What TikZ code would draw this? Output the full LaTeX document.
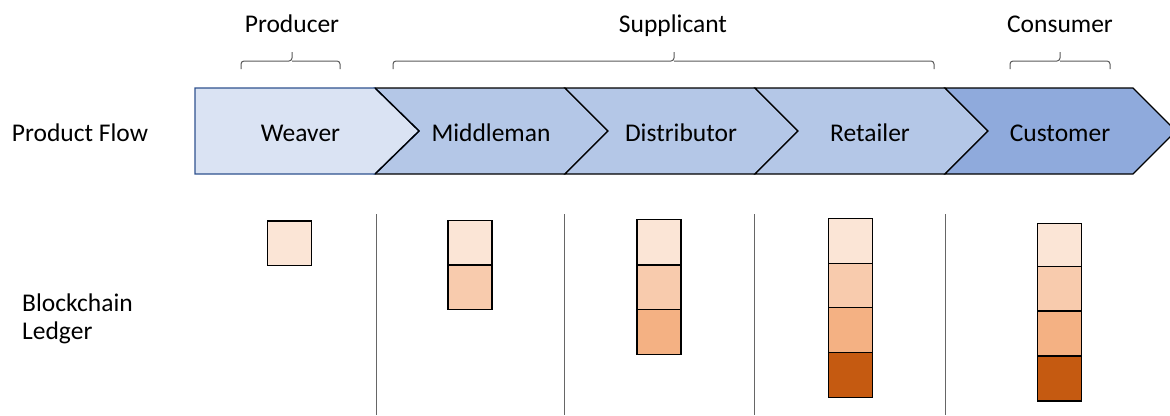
\documentclass[tikz,border=0pt]{standalone}
\usepackage{fontspec}
\setmainfont{Carlito}
\definecolor{blkA}{HTML}{FBE5D6}
\definecolor{blkB}{HTML}{F8CBAD}
\definecolor{blkC}{HTML}{F4B183}
\definecolor{blkD}{HTML}{C55A11}
\definecolor{chevLight}{HTML}{DAE3F3}
\definecolor{chevMid}{HTML}{B4C7E7}
\definecolor{chevDark}{HTML}{8FAADC}
\definecolor{edgeBlue}{HTML}{2F528F}
\definecolor{braceGray}{HTML}{595959}
\begin{document}
\begin{tikzpicture}[x=1pt,y=-1pt,
  lbl/.style={font=\fontsize{25.5}{28}\selectfont, inner sep=0pt, anchor=base},
  chev/.style={draw=black, line width=1.3pt, line join=miter},
  brace/.style={draw=braceGray, line width=1pt, rounded corners=3pt},
  divider/.style={draw=gray!80!black, line width=1pt},
  blk/.style={draw=black, line width=1.2pt, minimum width=44pt, minimum height=44.5pt, inner sep=0pt}]
\useasboundingbox (0,0) rectangle (1170,415);
\begin{scope}
\clip (0,0) rectangle (1170,415);

% stage headings with braces
\node[lbl] (prod) at (292,32.3) {Producer};
\node[lbl] (supp) at (673,32.3) {Supplicant};
\node[lbl] (cons) at (1060,32.3) {Consumer};
\draw[brace] (241,69) -- (241,61) -- (292,61) -- (292,52);
\draw[brace] (292,61) -- (340,61) -- (340,69);
\draw[brace] (393,69) -- (393,61) -- (674,61) -- (674,52);
\draw[brace] (674,61) -- (934,61) -- (934,69);
\draw[brace] (1010,69) -- (1010,61) -- (1060,61) -- (1060,52);
\draw[brace] (1060,61) -- (1110,61) -- (1110,69);

% product flow chevrons
\draw[chev, fill=chevMid] (375,88) -- (565,88) -- (608,131) -- (565,174) -- (375,174) -- (419,131) -- cycle;
\draw[chev, fill=chevMid] (565,88) -- (755,88) -- (798,131) -- (755,174) -- (565,174) -- (608,131) -- cycle;
\draw[chev, fill=chevMid] (755,88) -- (945,88) -- (988,131) -- (945,174) -- (755,174) -- (798,131) -- cycle;
\draw[chev, fill=chevDark] (945,88) -- (1133,88) -- (1176,131) -- (1133,174) -- (945,174) -- (988,131) -- cycle;
\draw[line width=1.3pt, draw=edgeBlue, fill=chevLight, line join=miter] (195,88) -- (375,88) -- (419,131) -- (375,174) -- (195,174) -- cycle;
\draw[chev] (375,88) -- (419,131) -- (375,174);

\node[lbl] (flow) at (80,141.5) {Product Flow};
\node[lbl] (weaver) at (300.5,141) {Weaver};
\node[lbl] (middle) at (491,141) {Middleman};
\node[lbl] (distr) at (681,141) {Distributor};
\node[lbl] (retail) at (870,141) {Retailer};
\node[lbl] (custom) at (1060,141) {Customer};

% ledger label (base anchor sits on the last line)
\node[lbl, anchor=base west, align=left] (ledger) at (22,339.5) {Blockchain\\Ledger};

% column dividers
\draw[divider] (376,214) -- (376,415);
\draw[divider] (564.5,214) -- (564.5,415);
\draw[divider] (754.5,214) -- (754.5,415);
\draw[divider] (945,214) -- (945,415);

% ledger blocks
\node[blk, fill=blkA] (w1) at (289.5,243.2) {};

\node[blk, fill=blkA] (m1) at (470,242.5) {};
\node[blk, fill=blkB] (m2) at (470,287.5) {};

\node[blk, fill=blkA] (d1) at (659,242) {};
\node[blk, fill=blkB] (d2) at (659,287.3) {};
\node[blk, fill=blkC] (d3) at (659,332) {};

\node[blk, fill=blkA] (r1) at (850.5,241) {};
\node[blk, fill=blkB] (r2) at (850.5,285.5) {};
\node[blk, fill=blkC] (r3) at (850.5,330) {};
\node[blk, fill=blkD] (r4) at (850.5,375) {};

\node[blk, fill=blkA, minimum height=42.5pt] (c1) at (1059.7,245) {};
\node[blk, fill=blkB] (c2) at (1059.7,288.6) {};
\node[blk, fill=blkC] (c3) at (1059.7,333.5) {};
\node[blk, fill=blkD] (c4) at (1059.7,378.8) {};
\end{scope}
\end{tikzpicture}
\end{document}
